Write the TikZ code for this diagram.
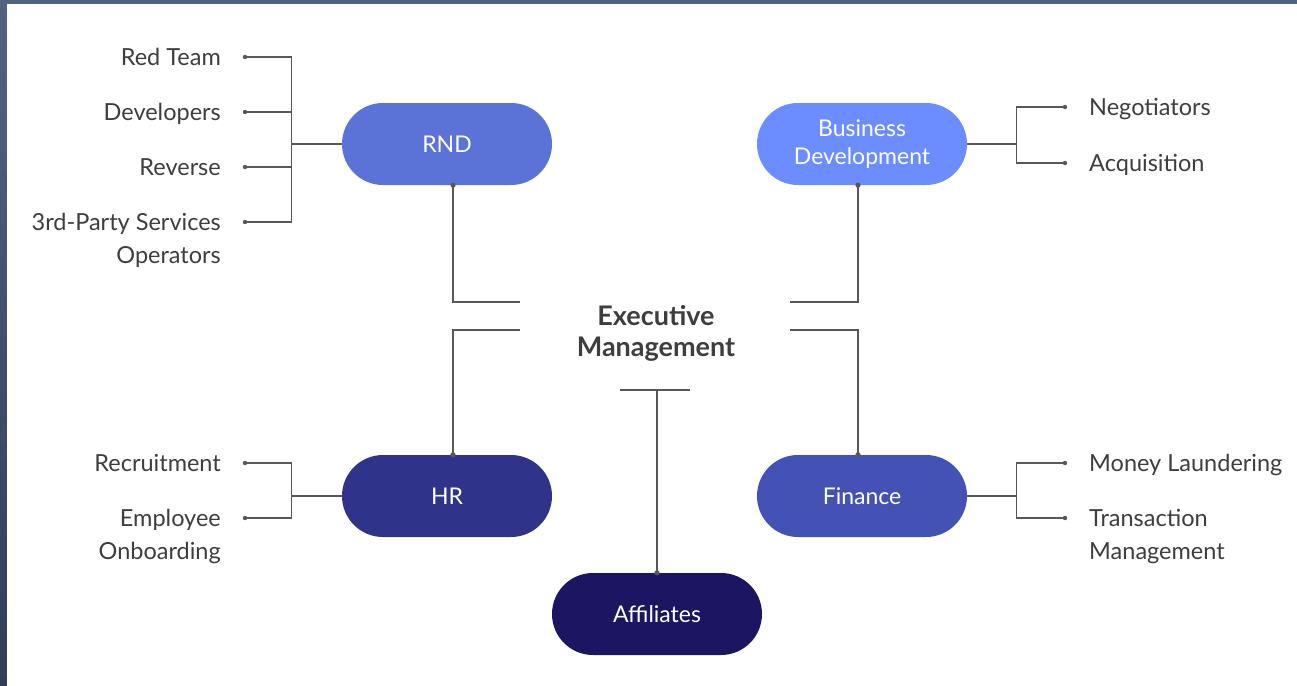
\documentclass[tikz,border=0pt]{standalone}
\usepackage{fontspec}
\setmainfont{Lato}
\usetikzlibrary{positioning}

\definecolor{rndblue}{RGB}{91,114,214}
\definecolor{bizblue}{RGB}{107,141,255}
\definecolor{hrblue}{RGB}{48,51,138}
\definecolor{finblue}{RGB}{67,82,180}
\definecolor{affblue}{RGB}{28,22,98}
\definecolor{ink}{RGB}{88,88,88}
\definecolor{leaftext}{RGB}{62,62,62}
\definecolor{frametop}{RGB}{82,99,130}
\definecolor{framebot}{RGB}{48,62,86}

\tikzset{
  dept/.style={rectangle, rounded corners=41pt, minimum width=210pt,
    minimum height=82pt, inner sep=0pt, align=center, text=white,
    font=\fontsize{23}{28}\selectfont},
  link/.style={draw=ink, line width=1.3pt},
  leftleaf/.style={anchor=base east, xshift=-24pt, yshift=-8pt, inner sep=0pt,
    align=right, text=leaftext, font=\fontsize{23.5}{33}\selectfont},
  rightleaf/.style={anchor=base west, xshift=24pt, yshift=-8pt, inner sep=0pt,
    align=left, text=leaftext, font=\fontsize{23.5}{33}\selectfont},
  % the base of a two-line label sits on its second line
  twoline/.style={yshift=-33pt},
}

\begin{document}
\begin{tikzpicture}[x=1pt, y=-1pt]
    \useasboundingbox (0,0) rectangle (1297,685);
    \shade [top color=frametop, bottom color=framebot] (0,0) rectangle (1297,685);
    \fill [white] (7,4) rectangle (1298,686);

    % departments
    \path (447, 144) node [dept, fill=rndblue] (rnd) {RND};
    \path (862, 144) node [dept, fill=bizblue] (biz) {Business\\Development};
    \path (447, 496) node [dept, fill=hrblue] (hr) {HR};
    \path (862, 496) node [dept, fill=finblue] (fin) {Finance};
    \path (657, 614) node [dept, fill=affblue] (aff) {Affiliates};
    \path (656, 333) node [align=center, text=leaftext,
        font=\fontsize{27}{31}\selectfont\bfseries] (exec) {Executive\\Management};

    % where the links meet the departments
    \path ([xshift=6pt]rnd.south) coordinate (rnd-tip)
          ([xshift=6pt]hr.north) coordinate (hr-tip)
          ([xshift=-4pt]biz.south) coordinate (biz-tip)
          ([xshift=-4pt]fin.north) coordinate (fin-tip)
          (aff.north) coordinate (aff-tip);

    % loose ends around the executive block
    \path (520, 302) coordinate (exec-nw) (520, 330) coordinate (exec-sw)
          (790, 302) coordinate (exec-ne) (790, 330) coordinate (exec-se)
          (620, 390) coordinate (exec-bl) (690, 390) coordinate (exec-br);
    \draw [link] (exec-nw) -| (rnd-tip);
    \draw [link] (exec-sw) -| (hr-tip);
    \draw [link] (exec-ne) -| (biz-tip);
    \draw [link] (exec-se) -| (fin-tip);
    \draw [link] (exec-bl) -- (exec-br);
    \draw [link] (exec-bl -| aff-tip) -- (aff-tip);

    % RND teams
    \path (245, 57) coordinate (redteam) (245, 112) coordinate (developers)
          (245, 167) coordinate (reverse) (245, 222) coordinate (thirdparty);
    \draw [link] (rnd.west) -- ++(-50,0) coordinate (rndfork);
    \draw [link] (redteam) -| (rndfork);
    \draw [link] (thirdparty) -| (rndfork);
    \draw [link] (developers) -- (developers -| rndfork);
    \draw [link] (reverse) -- (reverse -| rndfork);
    \path (redteam) node [leftleaf] (redteam-text) {Red Team};
    \path (developers) node [leftleaf] (developers-text) {Developers};
    \path (reverse) node [leftleaf] (reverse-text) {Reverse};
    \path (thirdparty) node [leftleaf, twoline] (thirdparty-text) {3rd-Party Services\\Operators};

    % HR teams
    \path (245, 463) coordinate (recruitment) (245, 518) coordinate (onboarding);
    \draw [link] (hr.west) -- ++(-50,0) coordinate (hrfork);
    \draw [link] (recruitment) -| (hrfork);
    \draw [link] (onboarding) -| (hrfork);
    \path (recruitment) node [leftleaf] (recruitment-text) {Recruitment};
    \path (onboarding) node [leftleaf, twoline] (onboarding-text) {Employee\\Onboarding};

    % business development teams
    \path (1065, 107) coordinate (negotiators) (1065, 163) coordinate (acquisition);
    \draw [link] (biz.east) -- ++(49,0) coordinate (bizfork);
    \draw [link] (negotiators) -| (bizfork);
    \draw [link] (acquisition) -| (bizfork);
    \path (negotiators) node [rightleaf] (negotiators-text) {Negotiators};
    \path (acquisition) node [rightleaf] (acquisition-text) {Acquisition};

    % finance teams
    \path (1065, 463) coordinate (laundering) (1065, 518) coordinate (transaction);
    \draw [link] (fin.east) -- ++(49,0) coordinate (finfork);
    \draw [link] (laundering) -| (finfork);
    \draw [link] (transaction) -| (finfork);
    \path (laundering) node [rightleaf] (laundering-text) {Money Laundering};
    \path (transaction) node [rightleaf, twoline] (transaction-text) {Transaction\\Management};

    % dots at the ends of the links
    \foreach \d in {rnd-tip, hr-tip, biz-tip, fin-tip, aff-tip}
        \fill [ink] (\d) circle (2.6pt);
    \foreach \d in {redteam, developers, reverse, thirdparty, recruitment, onboarding,
                    negotiators, acquisition, laundering, transaction}
        \fill [ink] (\d) circle (2.2pt);
\end{tikzpicture}
\end{document}
